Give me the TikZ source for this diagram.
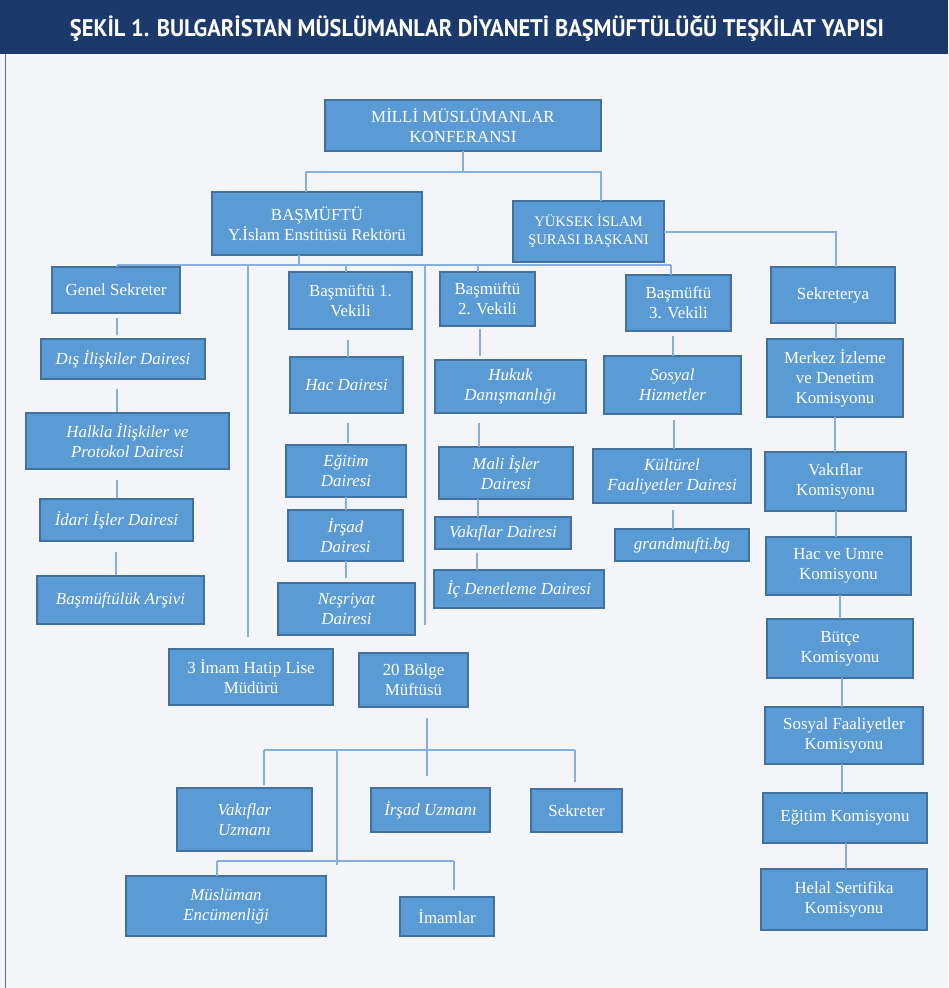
\documentclass[tikz,border=0pt]{standalone}
\usepackage{fontspec}
\setmainfont{Liberation Serif}
\newfontfamily\titlefont{PT Sans}
\usepackage{graphicx}
\definecolor{boxfill}{HTML}{5B9BD5}
\definecolor{boxline}{HTML}{41719C}
\definecolor{connline}{HTML}{85B0DE}
\definecolor{bgcol}{HTML}{F3F5F9}
\definecolor{bannercol}{HTML}{1B3A6B}
\definecolor{framecol}{HTML}{5A6F8F}
\newcommand\orgbox[7]{%
  \node[#6, minimum width={(#4-#2)*1pt}, minimum height={(#5-#3)*1pt}]
    (#1) at ({(#2+#4)/2},{(#3+#5)/2}) {#7};}
\tikzset{
  orgbase/.style={draw=boxline, fill=boxfill, line width=1.4pt, text=white,
    align=center, inner sep=0pt, outer sep=0pt,
    font=\fontsize{16.9}{20}\selectfont},
  up/.style={orgbase},
  it/.style={orgbase, font=\fontsize{16.9}{20}\selectfont\itshape},
  small/.style={orgbase, font=\fontsize{14.6}{18}\selectfont},
  conn/.style={draw=connline, line width=1.3pt}
}
\begin{document}
\begin{tikzpicture}[x=1pt,y=-1pt]
\useasboundingbox (0,0) rectangle (948,988);
\fill[bgcol] (0,0) rectangle (948,988);
\fill[bannercol] (0,0) rectangle (948,54);
\draw[framecol, line width=1.2pt] (5.5,54) -- (5.5,988);
\node[text=white, anchor=base, inner sep=0pt] (title) at (477,36)
  {\resizebox{814pt}{\height}{\titlefont\bfseries\fontsize{24}{24}\selectfont ŞEKİL 1. BULGARİSTAN MÜSLÜMANLAR DİYANETİ BAŞMÜFTÜLÜĞÜ TEŞKİLAT YAPISI}};

% boxes
\orgbox{milli}{325}{100}{601}{151}{up}{MİLLİ MÜSLÜMANLAR\\KONFERANSI}
\orgbox{bas}{212}{192}{422}{255}{up}{BAŞMÜFTÜ\\Y.İslam Enstitüsü Rektörü}
\orgbox{yuk}{513}{201}{664}{262}{small}{YÜKSEK İSLAM\\ŞURASI BAŞKANI}
\orgbox{genel}{52}{267}{180}{313}{up}{Genel Sekreter}
\orgbox{dis}{41}{339}{205}{379}{it}{Dış İlişkiler Dairesi}
\orgbox{halk}{26}{413}{229}{469}{it}{Halkla İlişkiler ve\\Protokol Dairesi}
\orgbox{idari}{40}{499}{193}{541}{it}{İdari İşler Dairesi}
\orgbox{arsiv}{37}{576}{204}{624}{it}{Başmüftülük Arşivi}
\orgbox{vone}{289}{272}{412}{329}{up}{Başmüftü 1.\\Vekili}
\orgbox{hac}{290}{357}{403}{413}{it}{Hac Dairesi}
\orgbox{egitim}{286}{445}{406}{497}{it}{Eğitim\\Dairesi}
\orgbox{irsad}{288}{510}{403}{561}{it}{İrşad\\Dairesi}
\orgbox{nesr}{278}{583}{415}{635}{it}{Neşriyat\\Dairesi}
\orgbox{vtwo}{440}{272}{535}{326}{up}{Başmüftü\\2. Vekili}
\orgbox{hukuk}{435}{360}{586}{413}{it}{Hukuk\\Danışmanlığı}
\orgbox{mali}{439}{447}{573}{499}{it}{Mali İşler\\Dairesi}
\orgbox{vakd}{435}{517}{571}{549}{it}{Vakıflar Dairesi}
\orgbox{icd}{434}{570}{604}{608}{it}{İç Denetleme Dairesi}
\orgbox{vthree}{626}{275}{731}{331}{up}{Başmüftü\\3. Vekili}
\orgbox{sosyal}{604}{356}{741}{414}{it}{Sosyal\\Hizmetler}
\orgbox{kult}{593}{449}{751}{503}{it}{Kültürel\\Faaliyetler Dairesi}
\orgbox{grand}{615}{529}{749}{561}{it}{grandmufti.bg}
\orgbox{sekr}{771}{267}{895}{323}{up}{Sekreterya}
\orgbox{merkez}{767}{339}{903}{417}{up}{Merkez İzleme\\ve Denetim\\Komisyonu}
\orgbox{vakk}{765}{452}{906}{511}{up}{Vakıflar\\Komisyonu}
\orgbox{hacu}{766}{537}{911}{595}{up}{Hac ve Umre\\Komisyonu}
\orgbox{butce}{767}{619}{913}{678}{up}{Bütçe\\Komisyonu}
\orgbox{sfk}{765}{707}{923}{764}{up}{Sosyal Faaliyetler\\Komisyonu}
\orgbox{egk}{763}{793}{927}{843}{up}{Eğitim Komisyonu}
\orgbox{helal}{761}{869}{927}{930}{up}{Helal Sertifika\\Komisyonu}
\orgbox{imam}{169}{649}{333}{705}{up}{3 İmam Hatip Lise\\Müdürü}
\orgbox{bolge}{359}{653}{468}{707}{up}{20 Bölge\\Müftüsü}
\orgbox{vuz}{177}{788}{312}{851}{it}{Vakıflar\\Uzmanı}
\orgbox{iuz}{371}{788}{490}{832}{it}{İrşad Uzmanı}
\orgbox{sekreter}{531}{789}{622}{832}{up}{Sekreter}
\orgbox{musl}{126}{876}{326}{936}{it}{Müslüman\\Encümenliği}
\orgbox{imamlar}{400}{897}{494}{936}{up}{İmamlar}

% top connectors
\coordinate (ja) at (306,172);
\coordinate (jb) at (601,172);
\draw[conn] (milli.south) -- (milli.south |- ja);
\draw[conn] (bas.north -| ja) -- (ja) -- (jb) -- (yuk.north -| jb);
\coordinate (js) at (836,232);
\draw[conn] (yuk.east |- js) -- (js) -- (sekr.north -| js);

% main bus
\coordinate (bL) at (117,265);
\coordinate (bR) at (671,265);
\coordinate (bm) at (299,265);
\coordinate (lone) at (248,265);
\coordinate (ltwo) at (425,265);
\coordinate (ltwoend) at (425,625);
\coordinate (dv1) at (346,265);
\coordinate (dv2) at (478,265);
\draw[conn] (bas.south -| bm) -- (bm);
\draw[conn] (bL) -- (bR);
\draw[conn] (bL) -- (genel.north -| bL);
\draw[conn, shorten >=12pt] (lone) -- (imam.north -| lone);
\draw[conn] (ltwo) -- (ltwoend);
\draw[conn] (dv1) -- (vone.north -| dv1);
\draw[conn] (dv2) -- (vtwo.north -| dv2);
\draw[conn] (bR) -- (vthree.north -| bR);

% chains
\newcommand\chain[5]{\coordinate (cx) at (#3,0);
  \draw[conn, shorten <=#4pt, shorten >=#5pt] (#1.south -| cx) -- (#2.north -| cx);}
\chain{genel}{dis}{117}{5}{4}
\chain{dis}{halk}{117}{10}{1}
\chain{halk}{idari}{117}{11}{1}
\chain{idari}{arsiv}{116}{11}{1}
\chain{vone}{hac}{348}{11}{0}
\chain{hac}{egitim}{348}{10}{2}
\chain{egitim}{irsad}{346}{0}{0}
\chain{irsad}{nesr}{346}{0}{5}
\chain{vtwo}{hukuk}{480}{3}{4}
\chain{hukuk}{mali}{479}{10}{0}
\chain{mali}{vakd}{478}{0}{0}
\chain{vakd}{icd}{477}{4}{0}
\chain{vthree}{sosyal}{673}{5}{0}
\chain{sosyal}{kult}{674}{6}{0}
\chain{kult}{grand}{673}{7}{0}
\chain{sekr}{merkez}{836}{0}{0}
\chain{merkez}{vakk}{835}{0}{0}
\chain{vakk}{hacu}{836}{0}{0}
\chain{hacu}{butce}{840}{0}{0}
\chain{butce}{sfk}{842}{0}{0}
\chain{sfk}{egk}{842}{0}{0}
\chain{egk}{helal}{846}{0}{0}

% bottom group
\coordinate (bc) at (427,750);
\coordinate (cL) at (264,750);
\coordinate (cR) at (575,750);
\coordinate (cm) at (337,750);
\coordinate (dL) at (217,861);
\coordinate (dR) at (454,861);
\coordinate (dm) at (337,861);
\draw[conn, shorten <=11pt, shorten >=12pt] (bolge.south -| bc) -- (iuz.north -| bc);
\draw[conn] (cL) -- (cR);
\draw[conn, shorten >=3pt] (cL) -- (vuz.north -| cL);
\draw[conn, shorten >=7pt] (cR) -- (sekreter.north -| cR);
\draw[conn] (cm) -- ([yshift=-4pt]dm);
\draw[conn] (dL) -- (dR);
\draw[conn] (dL) -- (musl.north -| dL);
\draw[conn, shorten >=7pt] (dR) -- (imamlar.north -| dR);
\end{tikzpicture}
\end{document}
